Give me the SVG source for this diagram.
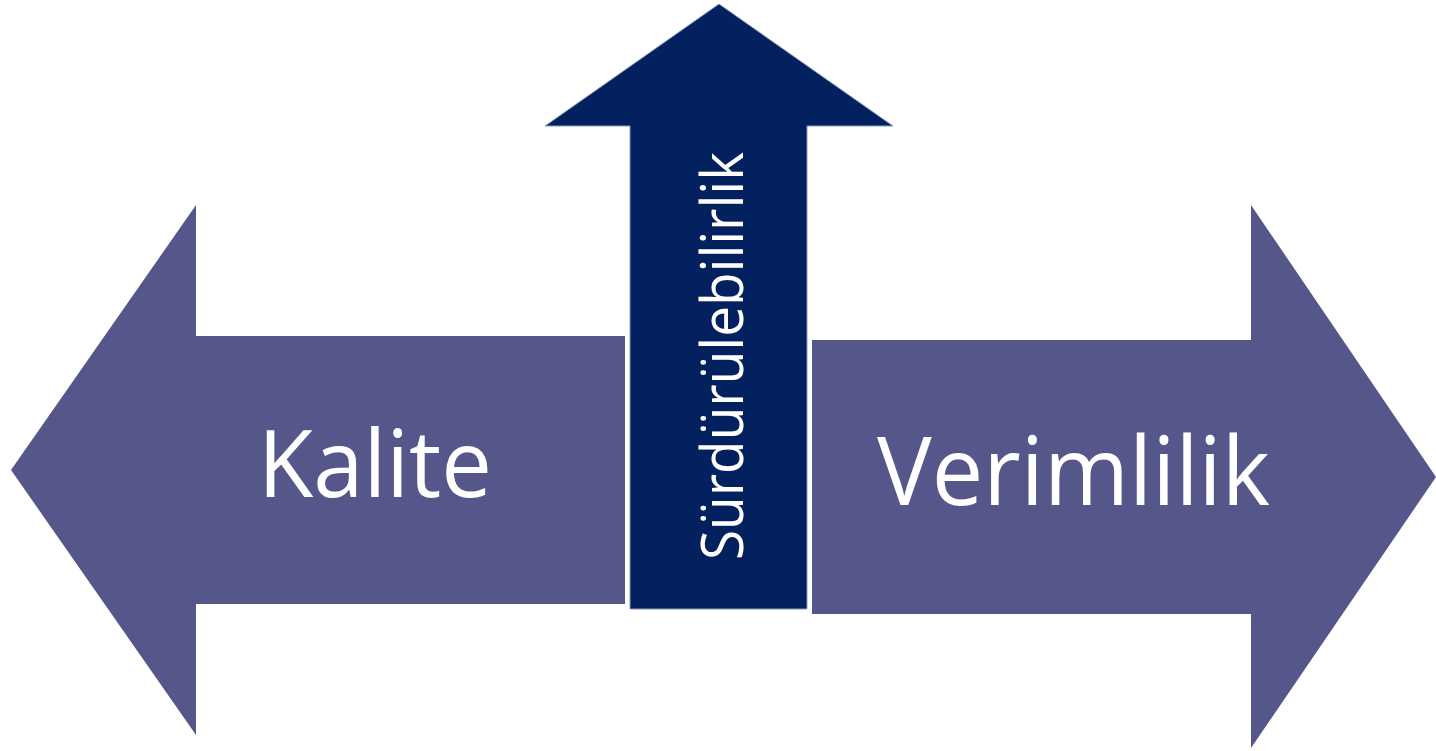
<svg xmlns="http://www.w3.org/2000/svg" width="1436" height="751" viewBox="0 0 1436 751">
<style>
.side{fill:#55568A;}
.up{fill:#03215F;stroke:#8A9ABD;stroke-width:1;}
.lbl{fill:#ffffff;font-family:"Open Sans","Liberation Sans",sans-serif;}
</style>
<rect width="1436" height="751" fill="#ffffff"/>
<g id="kalite">
<polygon class="side" points="11,470 196,205 196,336 625,336 625,604 196,604 196,735"/>
<text class="lbl" x="258" y="497" font-size="94" textLength="234" lengthAdjust="spacingAndGlyphs">Kalite</text>
</g>
<g id="verimlilik">
<polygon class="side" points="1436,477 1251,205 1251,340 812,340 812,614 1251,614 1251,748"/>
<text class="lbl" x="877" y="505" font-size="96" textLength="393" lengthAdjust="spacingAndGlyphs">Verimlilik</text>
</g>
<g id="surdurulebilirlik">
<polygon class="up" points="719,4 893,126 807,126 807,609 630,609 630,126 545,126"/>
<text class="lbl" transform="translate(743,560) rotate(-90)" x="0" y="0" font-size="58" textLength="408" lengthAdjust="spacingAndGlyphs">Sürdürülebilirlik</text>
</g>
<g id="connectors"></g>
</svg>
